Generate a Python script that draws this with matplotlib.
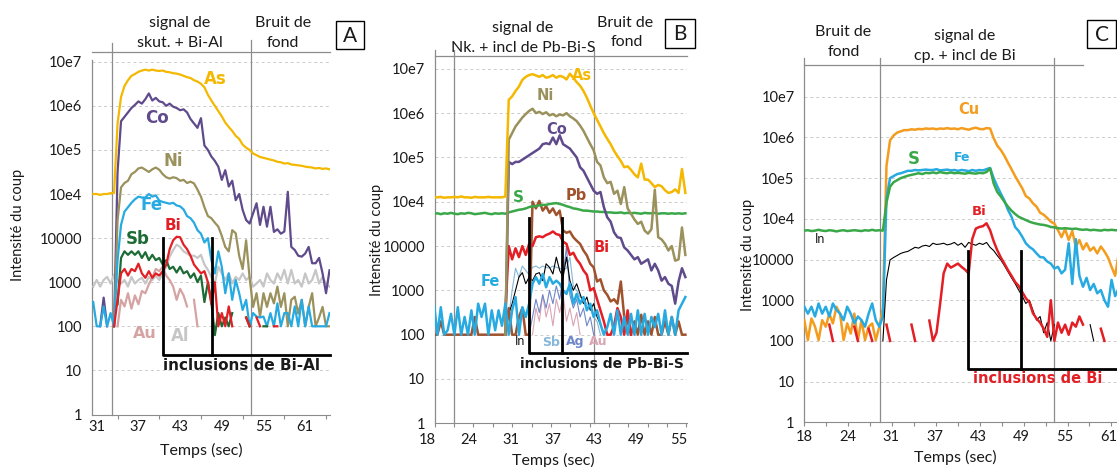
import numpy as np
import matplotlib.pyplot as plt
from matplotlib.patches import Rectangle
from matplotlib.ticker import NullLocator
from matplotlib.transforms import blended_transform_factory

nan = np.nan
W, H = 1117, 467

# valeurs en log10(intensité), pas de 0.5 s
# ---- A : skutterudite + inclusions Bi-Al ----
tA = np.arange(30.5, 64.51, 0.5)
A_As = [5.0, 5.0, 4.98, 5.0, 5.0, 5.02, 5.02, 6.6, 7.2, 7.45,
        7.58, 7.68, 7.72, 7.77, 7.8, 7.82, 7.8, 7.82, 7.8, 7.79,
        7.8, 7.77, 7.76, 7.74, 7.73, 7.71, 7.68, 7.65, 7.63, 7.58,
        7.55, 7.5, 7.42, 7.25, 7.12, 7.0, 6.88, 6.76, 6.62, 6.52,
        6.43, 6.32, 6.25, 6.12, 6.05, 6.0, 5.92, 5.88, 5.84, 5.82,
        5.8, 5.78, 5.76, 5.73, 5.72, 5.69, 5.7, 5.67, 5.66, 5.65,
        5.64, 5.62, 5.61, 5.6, 5.58, 5.59, 5.57, 5.58, 5.56]
A_Co = [nan, nan, 2.0, 2.65, 2.0, nan, 2.0, 5.5, 6.65, 6.75,
        6.85, 6.95, 7.02, 7.1, 7.05, 7.15, 7.28, 7.12, 7.18, 7.1,
        7.08, 7.0, 7.05, 6.98, 6.95, 6.9, 6.92, 6.85, 6.7, 6.6,
        6.5, 6.72, 6.1, 6.0, 5.85, 5.75, 5.62, 5.32, 5.54, 5.17,
        5.3, 4.86, 5.0, 4.64, 4.41, 4.33, 4.56, 4.79, 4.3, 4.71,
        4.26, 4.71, 4.14, 4.2, 4.1, 4.15, 5.05, 3.8, 3.73, 3.6,
        3.58, 3.65, 3.8, 3.43, 3.43, 3.55, 3.2, 2.75, 3.27]
A_Ni = [nan, nan, nan, nan, nan, nan, 2.0, 4.4, 5.15, 5.25,
        5.3, 5.45, 5.5, 5.58, 5.6, 5.55, 5.5, 5.56, 5.6, 5.55,
        5.45, 5.38, 5.35, 5.38, 5.36, 5.3, 5.32, 5.25, 5.28, 5.24,
        5.1, 4.94, 4.7, 4.5, 4.45, 4.35, 4.26, 4.05, 3.8, 3.7,
        4.18, 4.11, 3.6, 3.3, 3.95, 3.1, 2.44, 2.75, 2.22, 2.75,
        2.44, 2.75, 2.52, 2.9, 2.44, 2.75, 2.0, 2.6, 2.67, 2.29,
        2.6, 2.0, 2.44, 2.75, 2.0, 2.2, 2.44, 2.0, 2.0]
A_Fe = [2.55, 2.0, 2.0, 2.45, 2.0, 2.3, 2.0, 3.5, 4.3, 4.6,
        4.7, 4.8, 4.88, 4.94, 4.92, 4.92, 5.0, 4.94, 4.97, 4.85,
        4.82, 4.8, 4.78, 4.8, 4.74, 4.72, 4.65, 4.5, 4.45, 4.35,
        4.18, 4.1, 3.9, 4.0, 3.5, 3.2, 3.7, 3.35, 2.75, 3.2,
        2.6, 3.05, 2.75, 2.37, 2.6, 2.0, 2.3, 2.22, 2.2, 2.22,
        2.0, 2.3, 2.0, 2.52, 2.0, 2.3, 2.3, 2.0, 2.45, 2.0,
        2.6, 2.0, 2.45, 2.0, 2.0, 2.0, 2.0, 2.0, 2.3]
A_Bi = [nan, nan, nan, nan, nan, nan, 2.0, 2.6, 3.2, 3.3,
        3.15, 3.3, 3.25, 3.42, 3.2, 3.1, 3.25, 3.1, 3.2, 3.15,
        3.25, 3.4, 3.75, 3.95, 4.03, 4.02, 3.85, 3.75, 3.6, 3.4,
        3.3, 3.2, 3.25, 3.0, 2.5, 3.0, 2.0, 2.3, 2.0, 2.45,
        2.0, nan, nan, nan, 2.2, 2.0, nan, 2.2, 2.0, nan,
        nan, nan, 2.0, 2.0] + [nan] * 15
A_Sb = [nan, nan, nan, nan, nan, nan, nan, 2.5, 3.55, 3.7,
        3.62, 3.7, 3.62, 3.7, 3.55, 3.68, 3.5, 3.62, 3.5, 3.55,
        3.4, 3.5, 3.3, 3.35, 3.22, 3.35, 3.2, 3.25, 3.1, 3.2,
        3.0, 3.15, 2.55, 3.0, 2.55, 1.8, 2.3, 2.0, 2.2, 2.0,
        2.3, nan, nan, nan, 2.2, 2.0, nan, nan, nan, 2.0,
        2.0] + [nan] * 18
A_Au = [nan, nan, nan, nan, nan, nan, nan, 2.0, 2.6, 2.45,
        2.75, 2.4, 2.7, 2.5, 2.8, 2.75, 2.95, 3.1, 3.3, 3.25,
        3.35, 3.15, 3.05, 2.9, 2.6, 2.85, 2.7, 2.45, nan, 2.6,
        2.0] + [nan] * 38
A_Al = [2.9, 3.05, 2.9, 3.05, 3.12, 2.97, 3.17, 3.05, 2.97, 3.05,
        2.9, 3.12, 2.97, 3.05, 3.1, 2.97, 3.12, 3.05, 3.15, 3.05,
        3.2, 3.35, 3.58, 3.73, 3.85, 3.8, 3.7, 3.65, 3.6, 3.6,
        3.55, 3.62, 3.4, 3.28, 3.12, 2.97, 3.35, 3.2, 3.05, 3.2,
        2.97, 3.12, 3.05, 3.2, 3.05, 3.12, 2.9, 2.97, 3.05, 2.9,
        3.2, 3.05, 2.97, 3.2, 3.05, 3.28, 2.97, 3.28, 2.97, 3.05,
        2.9, 3.2, 2.97, 3.05, 3.28, 2.97, 3.12, 2.97, 2.9]

# ---- B : nickeline + inclusions Pb-Bi-S ----
tB = np.arange(19.0, 56.01, 0.5)
B_As = [5.1, 5.1, 5.11, 5.09, 5.1, 5.1, 5.11, 5.1, 5.12, 5.1,
        5.1, 5.09, 5.11, 5.1, 5.1, 5.1, 5.11, 5.1, 5.1, 5.1,
        5.1, 5.12, 7.3, 7.38, 7.5, 7.6, 7.75, 7.82, 7.86, 7.88,
        7.85, 7.82, 7.86, 7.8, 7.82, 7.86, 7.8, 7.84, 7.82, 7.76,
        7.89, 7.8, 7.7, 7.62, 7.5, 7.35, 7.17, 7.0, 6.85, 6.7,
        6.55, 6.42, 6.3, 6.15, 6.03, 5.92, 5.78, 5.8, 5.72, 5.62,
        5.55, 5.86, 5.5, 5.5, 5.42, 5.33, 5.38, 5.35, 5.26, 5.2,
        5.22, 5.28, 5.2, 5.74, 5.2]
B_Ni = [nan] * 21 + [2.0, 6.4, 6.55, 6.7, 6.8, 6.9, 6.98, 7.05, 7.1,
        7.0, 7.03, 6.98, 7.02, 6.95, 6.98, 6.93, 6.97, 6.95, 7.0,
        6.93, 6.88, 6.82, 6.72, 6.6, 6.45, 6.3, 6.16, 5.9, 5.82,
        5.55, 5.42, 5.45, 5.18, 5.25, 4.95, 5.33, 4.85, 4.73, 4.6,
        4.5, 4.55, 4.35, 4.28, 4.38, 5.27, 4.2, 4.15, 4.05, 3.9,
        4.0, 3.67, 3.7, 4.42, 3.8]
B_Co = [nan] * 21 + [2.0, 5.9, 5.85, 5.9, 5.9, 5.95, 6.0, 6.05, 6.1,
        6.15, 6.2, 6.3, 6.32, 6.3, 6.45, 6.3, 6.5, 6.3, 6.25,
        6.2, 6.1, 6.0, 5.78, 5.7, 5.55, 5.4, 5.25, 5.18, 5.22,
        4.88, 4.65, 4.55, 4.31, 4.2, 4.18, 3.97, 3.9, 3.8, 3.7,
        3.75, 3.6, 3.65, 3.7, 3.45, 3.6, 3.45, 3.22, 3.3, 3.15,
        3.1, 2.7, 3.2, 3.5, 3.3]
B_S = [4.73, 4.74, 4.72, 4.74, 4.73, 4.75, 4.73, 4.72, 4.74, 4.73,
       4.75, 4.74, 4.72, 4.73, 4.74, 4.75, 4.73, 4.72, 4.74, 4.73,
       4.74, 4.73, 4.76, 4.78, 4.8, 4.82, 4.83, 4.85, 4.88, 4.9,
       4.9, 4.92, 4.93, 4.93, 4.95, 4.96, 4.97, 4.95, 4.93, 4.9,
       4.88, 4.85, 4.84, 4.82, 4.8, 4.8, 4.79, 4.78, 4.78, 4.77,
       4.77, 4.76, 4.76, 4.75, 4.75, 4.76, 4.74, 4.75, 4.74, 4.75,
       4.74, 4.73, 4.75, 4.74, 4.74, 4.75, 4.73, 4.74, 4.74, 4.73,
       4.74, 4.73, 4.74, 4.73, 4.74]
B_Pb = [2.0, 2.0, 2.3, 2.0, 2.0, 2.0, 2.0, 2.0, 2.0, 2.0,
        2.0, 2.0, 2.4, 2.0, 2.0, 2.0, 2.0, 2.0, 2.0, 2.0,
        2.0, 2.0, 2.6, 2.0, 2.0, 2.4, 2.6, 2.0, 2.0, 5.0,
        4.85, 5.02, 4.8, 4.9, 4.75, 4.85, 4.7, 4.8, 4.35, 4.3,
        4.33, 4.2, 4.12, 4.05, 3.9, 3.79, 3.6, 3.52, 3.2, 3.25,
        3.0, 2.9, 2.75, 2.8, 2.7, 3.2, 2.4, 2.3, 2.0, 2.3,
        2.0, 2.45, 2.0, 2.3, 2.0, 2.4, 2.0, 2.0, 2.3, 2.0,
        2.4, 2.0, 2.3, 2.0, 2.0]
B_Bi = [nan] * 21 + [2.5, 4.0, 3.7, 3.95, 3.75, 4.0, 3.8, 4.05, 4.0,
        4.2, 4.22, 4.2, 4.25, 4.28, 4.33, 4.27, 4.25, 4.1, 4.05,
        3.8, 3.85, 3.7, 3.6, 3.45, 3.35, 3.0, 3.05, 2.8, 2.55,
        2.3, 2.0, 2.0, 2.2, 2.6, 2.4, 2.0, 2.55, 2.0] + [nan] * 16
B_Fe = [2.7, 2.0, 2.62, 2.0, 2.1, 2.47, 2.0, 2.62, 2.0, 2.4,
        2.0, 2.55, 2.0, 2.7, 2.4, 2.7, 2.0, 2.55, 2.1, 2.55,
        2.2, 2.7, 2.0, 2.55, 2.85, 2.0, 2.62, 2.4, 2.7, 3.15,
        3.3, 3.15, 3.37, 3.07, 3.3, 3.15, 3.22, 3.15, 3.0, 2.92,
        3.15, 2.7, 2.92, 2.7, 2.85, 2.55, 2.7, 2.4, 2.55, 2.24,
        2.0, 2.17, 2.47, 2.0, 2.55, 2.0, 2.4, 2.0, 2.47, 2.0,
        2.55, 2.0, 2.47, 2.0, 2.4, 2.17, 2.47, 2.0, 2.55, 2.0,
        2.4, 2.0, 2.55, 2.7, 2.85]
B_In = [nan] * 21 + [2.0, 2.47, 2.7, 3.0, 3.3, 3.4, 3.15, 3.3, 3.22,
        3.37, 3.4, 3.22, 3.6, 3.52, 3.37, 3.75, 3.45, 3.3, 3.75,
        3.22, 3.0, 3.15, 2.92, 2.7, 2.85, 2.55, 2.7, 2.4, 2.24,
        2.0] + [nan] * 24
B_Sb = [nan] * 22 + [2.4, 3.0, 3.5, 3.3, 3.55, 3.45, 3.35, 3.52,
        3.55, 3.5, 3.55, 3.52, 3.5, 3.55, 3.52, 3.5, 3.45, 3.5,
        3.75, 3.1, 3.0, 2.85, 2.8, 2.7, 2.6, 2.4, 2.3, 2.0] + [nan] * 25
B_Ag = [nan] * 28 + [2.0, 2.4,
        2.8, 2.5, 2.9, 2.6, 3.0, 2.7, 3.1, 2.8, 3.3, 4.0,
        2.9, 2.6, 2.8, 2.4, 2.6, 2.2, 2.4, 2.0] + [nan] * 27
B_Au = [nan] * 29 + [2.0,
        2.6, 2.3, 2.9, 2.4, 2.7, 2.2, 2.8, 2.5, 2.9, 2.3,
        2.6, 2.2, 2.5, 2.0] + [nan] * 31

# ---- C : chalcopyrite + inclusions Bi ----
tC = np.arange(18.0, 62.01, 0.5)
C_Cu = [2.51, 2.02, 2.55, 2.35, 2.02, 2.51, 2.35, 2.67, 2.43, 2.84,
        2.67, 2.02, 2.43, 2.18, 2.67, 2.02, 2.51, 2.02, 2.35, 2.43,
        2.02, 2.35, 2.8, 6.3, 6.93, 7.05, 7.12, 7.15, 7.18, 7.18,
        7.2, 7.19, 7.21, 7.2, 7.22, 7.21, 7.22, 7.2, 7.22, 7.21,
        7.23, 7.21, 7.22, 7.2, 7.23, 7.21, 7.19, 7.22, 7.24, 7.21,
        7.2, 7.23, 7.22, 6.98, 6.8, 6.69, 6.55, 6.38, 6.22, 6.05,
        5.9, 5.75, 5.56, 5.5, 5.38, 5.3, 5.15, 5.1, 5.02, 4.93,
        4.88, 4.72, 4.55, 4.75, 4.48, 4.7, 4.31, 4.48, 4.25, 4.4,
        4.22, 4.3, 4.15, 4.32, 4.2, 4.05, 3.82, 3.6, 4.15]
C_Fe = [2.84, 2.67, 2.84, 2.6, 2.92, 2.67, 2.84, 2.6, 2.92, 2.76,
        2.67, 2.51, 2.84, 2.67, 2.43, 2.6, 2.51, 2.35, 2.67, 2.92,
        2.51, 2.35, 2.6, 5.5, 6.0, 6.05, 6.1, 6.12, 6.15, 6.18,
        6.18, 6.2, 6.19, 6.2, 6.21, 6.2, 6.2, 6.22, 6.19, 6.2,
        6.21, 6.19, 6.2, 6.18, 6.2, 6.19, 6.17, 6.2, 6.18, 6.2,
        6.19, 6.22, 6.25, 6.0, 5.8, 5.62, 5.45, 5.22, 5.05, 4.8,
        4.7, 4.56, 4.4, 4.31, 4.25, 4.15, 4.06, 4.05, 3.95, 3.9,
        3.78, 3.82, 3.66, 3.75, 4.4, 3.4, 4.5, 3.6, 3.33, 3.55,
        3.25, 3.4, 3.17, 3.25, 3.0, 2.84, 3.5, 3.1, 3.3]
C_S = [4.71, 4.72, 4.7, 4.71, 4.73, 4.71, 4.7, 4.72, 4.71, 4.69,
       4.71, 4.72, 4.7, 4.71, 4.72, 4.71, 4.7, 4.72, 4.71, 4.73,
       4.71, 4.72, 4.71, 5.4, 5.79, 5.9, 5.95, 6.0, 6.03, 6.06,
       6.08, 6.1, 6.12, 6.1, 6.13, 6.12, 6.14, 6.12, 6.15, 6.13,
       6.12, 6.14, 6.12, 6.13, 6.12, 6.11, 6.13, 6.12, 6.11, 6.13,
       6.12, 6.15, 6.24, 5.87, 5.66, 5.55, 5.42, 5.3, 5.2, 5.12,
       5.05, 5.01, 4.97, 4.93, 4.9, 4.88, 4.86, 4.85, 4.83, 4.8,
       4.79, 4.77, 4.76, 4.77, 4.76, 4.75, 4.76, 4.74, 4.73, 4.74,
       4.72, 4.73, 4.72, 4.71, 4.73, 4.72, 4.73, 4.72, 4.72]
C_Bi = [nan, nan, nan, nan, nan, nan, nan, 2.4, 2.0, nan,
        nan, nan, nan, nan, 2.35, 2.0, nan, nan, 2.3, 2.0,
        nan, nan, nan, 2.4, 2.0, nan, nan, nan, nan, nan,
        2.4, 2.0, nan, nan, nan, 2.5, 2.0, 2.2, 2.9, 3.66,
        3.9, 3.8, 3.85, 3.9, 3.82, 3.75, 3.66, 4.5, 4.76, 4.8,
        4.82, 4.89, 4.72, 4.45, 4.23, 4.05, 3.9, 3.74, 3.6, 3.45,
        3.35, 3.2, 3.05, 2.95, 2.68, 2.55, 2.45, 2.3, 2.1, 3.0,
        2.0, 2.45, 2.2, 2.4, 2.15, 2.45, 2.35, 2.6, 2.4, nan,
        nan, nan, nan, 2.3, 2.0, nan, nan, nan, nan]
C_In = [nan] * 22 + [2.0, 3.5, 3.99, 4.05, 4.1, 4.15, 4.18, 4.2,
        4.25, 4.3, 4.28, 4.33, 4.35, 4.32, 4.4, 4.37, 4.38, 4.4,
        4.36, 4.38, 4.42, 4.35, 4.4, 4.3, 4.42, 4.38, 4.35, 4.4,
        4.37, 4.42, 4.3, 4.22, 4.1, 3.99, 3.85, 3.7, 3.55, 3.41,
        3.25, 3.1, 2.92, 3.0, 2.75, 2.51, 2.6, 2.2, 2.45, 2.0,
        2.4, nan, nan, nan, nan, nan, nan, nan, nan, nan,
        2.4, 2.0, nan, nan, nan, nan, nan, nan, nan]

ylabels = ['1', '10', '100', '1000', '10000', '10e4', '10e5', '10e6', '10e7']
xA_labels = ['31', '37', '43', '49', '55', '61']
xB_labels = ['18', '24', '31', '37', '43', '49', '55']
xC_labels = ['18', '24', '31', '37', '43', '49', '55', '61']

GREY = '#8c8c8c'
plt.rcParams['font.family'] = ['Lato', 'DejaVu Sans']
fig = plt.figure(figsize=(W / 100, H / 100), dpi=100)


def rect(x0, x1, y_bot, y_top):
    return [x0 / W, 1 - y_bot / H, (x1 - x0) / W, (y_bot - y_top) / H]


def ftext(x, y, s, size=11, color='#1a1a1a', bold=False, **kw):
    fam = ['DejaVu Sans'] if bold else ['Lato', 'DejaVu Sans']
    fig.text(x / W, 1 - y / H, s, fontsize=size, color=color, ha='center', va='center',
             fontweight='bold' if bold else 'normal', family=fam, **kw)


def setup(ax, xlim, ytop, spine_top, labels, label_pos, minor, lab_dy):
    ax.set_yscale('log')
    ax.set_xlim(xlim)
    ax.set_ylim(1, 10 ** ytop)
    ax.set_yticks([10.0 ** k for k in range(9)])
    ax.set_yticklabels(ylabels)
    ax.yaxis.set_minor_locator(NullLocator())
    ax.tick_params(axis='y', length=0, pad=7, labelsize=10.5, labelcolor='#1a1a1a')
    ax.set_xticks([])
    ax.set_xticks(minor, minor=True)
    ax.tick_params(axis='x', which='minor', length=3, width=0.8, color=GREY)
    trans = blended_transform_factory(ax.transData, ax.transAxes)
    h_px = ax.get_position().height * H
    for p, s in zip(label_pos, labels):
        ax.text(p, -lab_dy / h_px, s, transform=trans, ha='center', va='center',
                fontsize=10.5, color='#1a1a1a')
    for k in range(1, 9):
        ax.axhline(10.0 ** k, color='#cccccc', lw=0.7, ls=(0, (3, 3)), zorder=0)
    for s in ['top', 'right', 'left']:
        ax.spines[s].set_visible(False)
    ax.spines['bottom'].set_color(GREY)
    ax.plot([xlim[0], xlim[0]], [1, 10 ** spine_top], color=GREY, lw=0.9, clip_on=False)


def curves(ax, t, series):
    for vals, color, lw in series:
        ax.plot(t, 10 ** np.array(vals, dtype=float), color=color, lw=lw)


def vline(ax, x, top):
    ax.plot([x, x], [1, 10 ** top], color=GREY, lw=0.9, clip_on=False, zorder=1)


def bracket(ax, x0, x1, xend, top, bot, color='black'):
    ax.plot([x0, x0, xend], [10 ** top, 10 ** bot, 10 ** bot], color=color, lw=2, clip_on=False, zorder=5)
    ax.plot([x1, x1], [10 ** top, 10 ** bot], color=color, lw=2, clip_on=False, zorder=5)


# ---------- A ----------
axA = fig.add_axes(rect(91.7, 330, 414.5, 52))
setup(axA, (30.28, 64.57), 8.22, 8.04, xA_labels, np.arange(31, 62, 6), np.arange(34, 65, 6), 12.5)
curves(axA, tA, [(A_Al, '#c6c6c6', 1.6), (A_Au, '#d6a3a3', 1.6), (A_Co, '#5f4a8b', 1.6),
                 (A_Ni, '#9b915c', 1.6), (A_Fe, '#27aae1', 1.6), (A_Sb, '#1d6b34', 1.6),
                 (A_Bi, '#e31e24', 1.6), (A_As, '#f4b800', 1.6)])
vline(axA, 33.24, 8.42)
vline(axA, 53.2, 8.49)
axA.plot([30.28, 64.57], [10 ** 8.22] * 2, color=GREY, lw=0.9, clip_on=False)
bracket(axA, 40.58, 47.55, 64.57, 4.0, 1.35)

# ---------- B ----------
axB = fig.add_axes(rect(434.7, 687, 423.3, 56))
setup(axB, (19.13, 56.24), 8.29, 8.43, xB_labels, 18 + 6.167 * np.arange(7),
      np.arange(19.1, 56.3, 2.85), 16.5)
curves(axB, tB, [(B_Au, '#d9a5b5', 0.8), (B_Ag, '#6f86c9', 0.8), (B_Sb, '#86b6d8', 0.8),
                 (B_In, 'black', 0.8), (B_Pb, '#a0522d', 1.8), (B_Bi, '#e31e24', 1.8),
                 (B_S, '#3aa849', 1.8), (B_Co, '#5f4a8b', 1.8), (B_Ni, '#9b915c', 1.8),
                 (B_As, '#f4b800', 1.8), (B_Fe, '#27aae1', 1.8)])
vline(axB, 21.93, 8.43)
vline(axB, 42.6, 8.43)
axB.plot([19.13, 56.24], [10 ** 8.29] * 2, color=GREY, lw=0.9, clip_on=False)
bracket(axB, 32.96, 37.85, 56.24, 4.63, 1.58)

# ---------- C ----------
axC = fig.add_axes(rect(804.3, 1133, 422.3, 65))
setup(axC, (18, 64), 8.78, 8.95, xC_labels, 18 + 6.08 * np.arange(8), np.arange(18, 64, 3.07), 14.5)
curves(axC, tC, [(C_Cu, '#f39c1e', 1.8), (C_Fe, '#27aae1', 1.8), (C_S, '#3aa849', 1.8),
                 (C_In, 'black', 0.8), (C_Bi, '#e31e24', 1.8)])
vline(axC, 28.59, 8.95)
vline(axC, 52.98, 8.95)
axC.plot([18, 57.0], [10 ** 8.78] * 2, color=GREY, lw=0.9, clip_on=False)
bracket(axC, 40.87, 48.28, 64, 4.22, 1.32)

# ---------- textes ----------
for x, y in [(18, 225), (377, 240), (748, 255)]:
    ftext(x, y, 'Intensité du coup', size=10.5, rotation=90)
for x, y in [(201.7, 450.7), (553.7, 460), (955, 457.7)]:
    ftext(x, y, 'Temps (sec)', size=11.5)

ftext(180, 23.3, 'signal de', size=11.5)
ftext(180, 43, 'skut. + Bi-Al', size=11.5)
ftext(283, 23, 'Bruit de', size=11.5)
ftext(283, 42.7, 'fond', size=11.5)
ftext(522.7, 27.7, 'signal de', size=11.5)
ftext(523.7, 47.7, 'Nk. + incl de Pb-Bi-S', size=11.5)
ftext(625, 22.7, 'Bruit de', size=11.5)
ftext(627, 42.3, 'fond', size=11.5)
ftext(843.3, 32.3, 'Bruit de', size=11.5)
ftext(844, 51.7, 'fond', size=11.5)
ftext(965, 36, 'signal de', size=11.5)
ftext(965, 56, 'cp. + incl de Bi', size=11.5)

for (x0, x1, y0, y1), s in [((336, 364, 21, 49), 'A'), ((665, 695, 19, 48), 'B'), ((1087, 1116, 20, 48), 'C')]:
    fig.add_artist(Rectangle((x0 / W, 1 - y1 / H), (x1 - x0) / W, (y1 - y0) / H,
                             transform=fig.transFigure, fill=False, lw=1.0, ec='black'))
    ftext((x0 + x1) / 2, (y0 + y1) / 2 + 1, s, size=15)

for x, y, s, c, sz in [(215, 79, 'As', '#f4b800', 12), (156.7, 118.3, 'Co', '#5f4a8b', 12),
                       (173, 160.7, 'Ni', '#9b915c', 12), (151.7, 205, 'Fe', '#27aae1', 12),
                       (173, 225, 'Bi', '#e31e24', 11), (138, 239, 'Sb', '#1d6b34', 12),
                       (145, 333, 'Au', '#d6a3a3', 11.5), (180, 336, 'Al', '#c6c6c6', 12),
                       (582, 75, 'As', '#f4b800', 10.5), (545.3, 96, 'Ni', '#9b915c', 10.5),
                       (557, 130, 'Co', '#5f4a8b', 10.5), (518.7, 197.3, 'S', '#3aa849', 11),
                       (576, 195, 'Pb', '#a0522d', 10.5), (601.3, 247.3, 'Bi', '#e31e24', 10.5),
                       (490.3, 281.7, 'Fe', '#27aae1', 10.5), (551, 342.7, 'Sb', '#86b6d8', 9),
                       (574.7, 341.7, 'Ag', '#6f86c9', 9), (597.7, 341.7, 'Au', '#d9a5b5', 9),
                       (969, 110, 'Cu', '#f39c1e', 10.5), (913.3, 159.3, 'S', '#3aa849', 12),
                       (961.7, 157.3, 'Fe', '#27aae1', 9), (979.3, 211.7, 'Bi', '#e31e24', 9.5)]:
    ftext(x, y, s, size=sz, color=c, bold=True)
ftext(520.3, 341, 'In', size=9)
ftext(820, 239.3, 'In', size=9)

ftext(241.7, 365.7, 'inclusions de Bi-Al', size=11, bold=True)
ftext(602, 364.3, 'inclusions de Pb-Bi-S', size=10, bold=True)
ftext(1038, 378.3, 'inclusions de Bi', size=10.5, color='#e31e24', bold=True)

fig.savefig('out.png', dpi=100)
